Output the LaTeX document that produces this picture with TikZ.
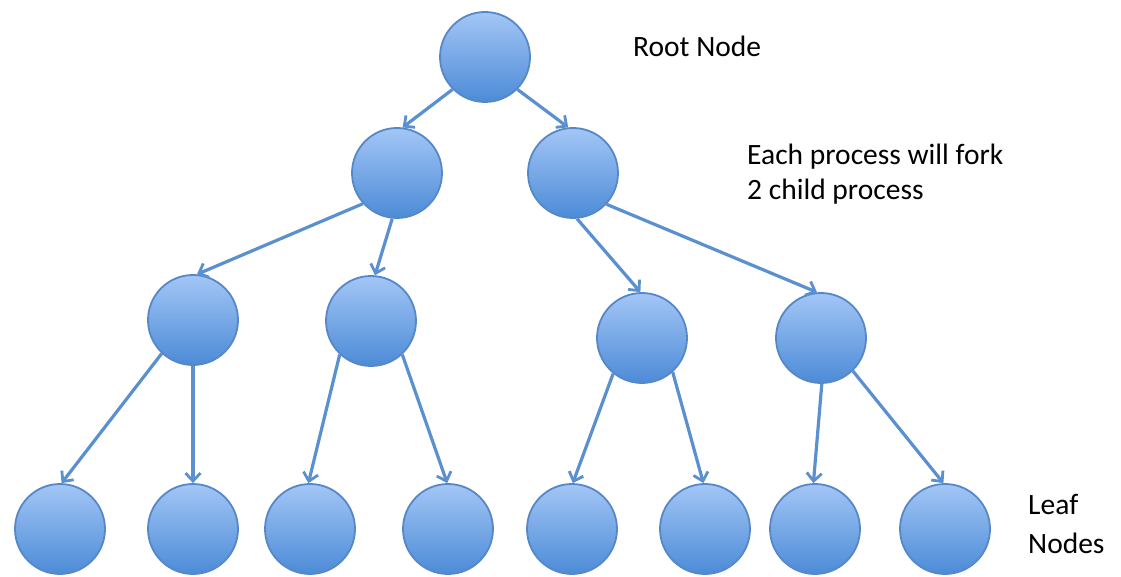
\documentclass[tikz,border=0pt]{standalone}
\usepackage{fontspec}
\setmainfont{Carlito}
\usetikzlibrary{arrows.meta}
\definecolor{ctop}{RGB}{163,198,246}
\definecolor{cbot}{RGB}{76,139,215}
\definecolor{cbord}{RGB}{86,136,200}
\definecolor{carrow}{RGB}{90,144,208}
\tikzset{
  proc/.style={circle, minimum size=90pt, inner sep=0pt, draw=cbord, line width=1.8pt,
    top color=ctop, bottom color=cbot},
  edge/.style={draw=carrow, line width=3.2pt,
    -{Straight Barb[length=8pt,width=15pt,line width=2.8pt]}},
  lbl/.style={font=\fontsize{29.5}{35}\selectfont, text=black, inner sep=0pt, align=left}
}
\begin{document}
\begin{tikzpicture}[x=1pt,y=-1pt]
\useasboundingbox (0,0) rectangle (1121,577);
% nodes
\node[proc] (root) at (485,57) {};
\node[proc] (a) at (397,173) {};
\node[proc] (b) at (573,173) {};
\node[proc] (c) at (193,320) {};
\node[proc] (d) at (371,321) {};
\node[proc] (e) at (642,338) {};
\node[proc] (f) at (821,338) {};
\node[proc] (l1) at (60,529) {};
\node[proc] (l2) at (193,529) {};
\node[proc] (l3) at (310,529) {};
\node[proc] (l4) at (448,529) {};
\node[proc] (l5) at (572,529) {};
\node[proc] (l6) at (705,529) {};
\node[proc] (l7) at (815,529) {};
\node[proc] (l8) at (945,529) {};
% connectors
\draw[edge] (root.225) -- (a.83);
\draw[edge] (root.315) -- (b.96);
\draw[edge] (a.222) -- (c.85);
\draw[edge] (a.264) -- (d.85);
\draw[edge] (b.275) -- (e.92);
\draw[edge] (b.317) -- (f.95);
\draw[edge] (c.227) -- (l1.88);
\draw[edge] (c.270) -- (l2.90);
\draw[edge] (d.227) -- (l3.92);
\draw[edge] (d.313) -- (l4.91);
\draw[edge] (e.231) -- (l5.89);
\draw[edge] (e.312) -- (l6.92);
\draw[edge] (f.271) -- (l7.92);
\draw[edge] (f.314) -- (l8.92);
% labels
\node[lbl, anchor=base west] (troot) at (633,57) {Root Node};
\node[lbl, anchor=base west] (tfork) at (747,200) {Each process will fork\\2 child process};
\node[lbl, anchor=base west, font=\fontsize{29.5}{39}\selectfont] (tleaf) at (1028,553) {Leaf\\Nodes};
\end{tikzpicture}
\end{document}
